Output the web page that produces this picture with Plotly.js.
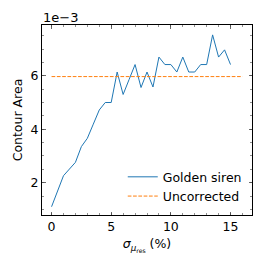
<!DOCTYPE html>
<html><head><meta charset="utf-8">
<script src="https://cdn.plot.ly/plotly-3.0.1.min.js"></script>
<style>html,body{margin:0;padding:0;background:#fff}</style>
</head><body>
<div id="chart" style="width:266px;height:266px"></div>
<script>
var sigma = [0,0.5,1,1.5,2,2.5,3,3.5,4,4.5,5,5.5,6,6.5,7,7.5,8,8.5,9,9.5,10,10.5,11,11.5,12,12.5,13,13.5,14,14.5,15];
var goldenSiren = [1.10e-3,1.69e-3,2.26e-3,2.51e-3,2.76e-3,3.35e-3,3.66e-3,4.19e-3,4.72e-3,5.00e-3,5.00e-3,6.14e-3,5.30e-3,5.86e-3,6.42e-3,5.56e-3,6.14e-3,5.58e-3,6.70e-3,6.42e-3,6.42e-3,6.14e-3,6.70e-3,6.14e-3,6.14e-3,6.42e-3,6.42e-3,7.53e-3,6.70e-3,6.97e-3,6.42e-3];
var uncorrectedX = [0,16];
var uncorrectedY = [5.97e-3,5.97e-3];
var yTickVals = [0.002,0.004,0.006];
var yTickText = ['2','4','6'];
var xTickVals = [0,5,10,15];

var font = {family:'DejaVu Sans', size:12.5, color:'#000'};
var traces = [
  {x:sigma, y:goldenSiren, mode:'lines', name:'Golden siren', line:{color:'#1f77b4', width:1}},
  {x:uncorrectedX, y:uncorrectedY, mode:'lines', name:'Uncorrected', line:{color:'#ff7f0e', width:1, dash:'3.7px,1.6px'}}
];
var layout = {
  width:266, height:266,
  margin:{l:42, r:14, t:25, b:51},
  paper_bgcolor:'#fff', plot_bgcolor:'#fff',
  font:font,
  showlegend:true,
  legend:{x:0.975, y:0.02, xanchor:'right', yanchor:'bottom', bgcolor:'rgba(0,0,0,0)', font:font, itemwidth:30, tracegroupgap:0},
  xaxis:{range:[-0.8,16.8], tickvals:xTickVals, ticks:'inside', ticklen:3.5, tickwidth:0.8, showline:true, linecolor:'#000', linewidth:1, mirror:'allticks', showgrid:false, zeroline:false,
    minor:{dtick:1, tick0:0, ticks:'inside', ticklen:2, tickwidth:0.6, showgrid:false},
    tickfont:font,
    title:{text:'<i>σ</i><sub><i>μ</i><sub>res</sub></sub> (%)', font:{family:'DejaVu Sans', size:12.5, color:'#000'}, standoff:6}},
  yaxis:{range:[0.79e-3,7.9e-3], tickvals:yTickVals, ticktext:yTickText, ticks:'inside', ticklen:3.5, tickwidth:0.8, showline:true, linecolor:'#000', linewidth:1, mirror:'allticks', showgrid:false, zeroline:false,
    minor:{dtick:0.0005, tick0:0, ticks:'inside', ticklen:2, tickwidth:0.6, showgrid:false},
    tickfont:font,
    title:{text:'Contour Area', font:{family:'DejaVu Sans', size:12.5, color:'#000'}, standoff:5}},
  annotations:[{text:'1e\u22123', xref:'paper', yref:'paper', x:0, y:1, xanchor:'left', yanchor:'bottom', yshift:-2, xshift:-1, showarrow:false, font:{family:'DejaVu Sans', size:13, color:'#000'}}]
};
Plotly.newPlot('chart', traces, layout, {displayModeBar:false, staticPlot:true});
</script>
</body></html>
